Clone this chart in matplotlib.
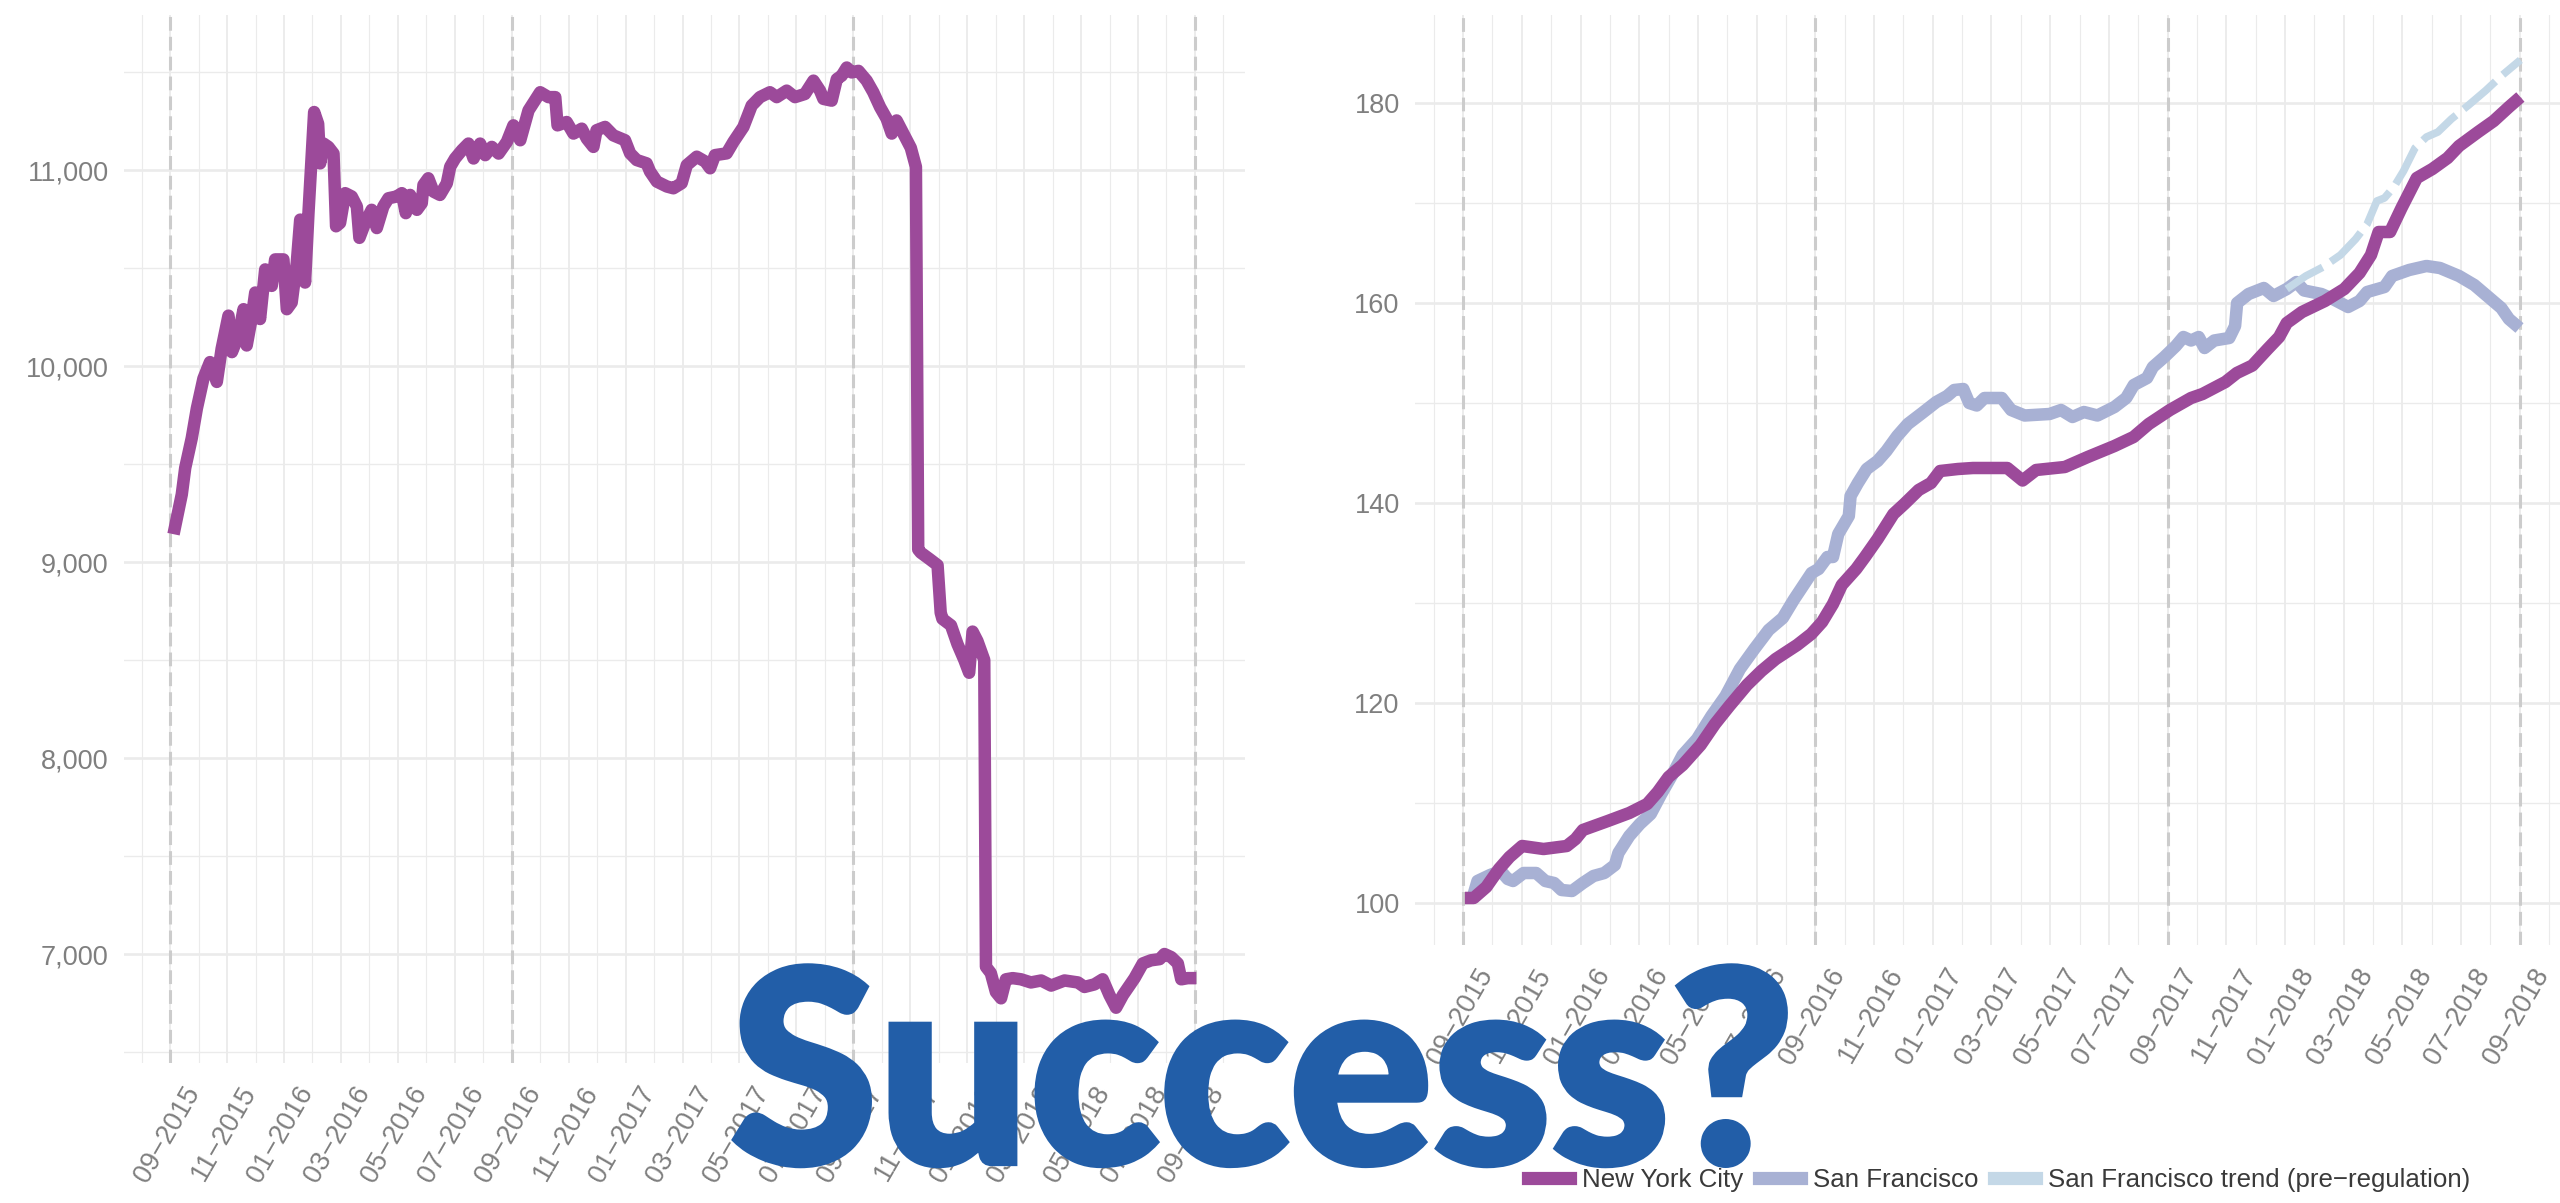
import matplotlib
matplotlib.use("Agg")
import matplotlib.pyplot as plt
import matplotlib.transforms as mtransforms
import matplotlib.patheffects as pe
from matplotlib.lines import Line2D
from matplotlib.ticker import MultipleLocator, FuncFormatter

plt.rcParams['font.family'] = ['Liberation Sans', 'DejaVu Sans']

# x positions are months after 09-2015
tick_months = list(range(0, 37, 2))
tick_labels = ["09−2015", "11−2015", "01−2016", "03−2016", "05−2016", "07−2016",
               "09−2016", "11−2016", "01−2017", "03−2017", "05−2017", "07−2017",
               "09−2017", "11−2017", "01−2018", "03−2018", "05−2018", "07−2018",
               "09−2018"]
year_marks = [0, 12, 24, 36]

# left panel: listings count, NYC
left_months = [0.12, 0.41, 0.53, 0.76, 0.94, 1.17, 1.40, 1.64, 1.81, 2.05, 2.17, 2.40,
               2.58, 2.69, 2.86, 2.99, 3.16, 3.34, 3.57, 3.69, 3.98, 4.10, 4.27, 4.45,
               4.57, 4.74, 4.86, 4.98, 5.06, 5.20, 5.27, 5.39, 5.56, 5.74, 5.83, 5.97,
               6.15, 6.38, 6.56, 6.65, 6.85, 7.08, 7.26, 7.49, 7.67, 7.96, 8.14, 8.28,
               8.43, 8.67, 8.84, 8.90, 9.07, 9.25, 9.48, 9.72, 9.84, 10.01, 10.25, 10.48,
               10.66, 10.89, 11.07, 11.30, 11.54, 11.83, 12.06, 12.30, 12.59, 13.00, 13.29,
               13.53, 13.61, 13.93, 14.17, 14.46, 14.64, 14.87, 14.98, 15.28, 15.57, 15.98,
               16.16, 16.39, 16.74, 16.86, 17.10, 17.45, 17.68, 17.97, 18.15, 18.50, 18.80,
               18.97, 19.14, 19.55, 19.79, 20.14, 20.43, 20.72, 21.07, 21.31, 21.66, 21.95,
               22.30, 22.60, 22.83, 22.95, 23.24, 23.42, 23.59, 23.77, 23.94, 24.18, 24.47,
               24.70, 24.94, 25.17, 25.35, 25.52, 25.79, 26.02, 26.20, 26.28, 26.37, 26.67,
               26.96, 27.07, 27.13, 27.43, 27.66, 27.90, 28.07, 28.19, 28.36, 28.60, 28.66,
               28.83, 29.01, 29.19, 29.36, 29.60, 29.89, 30.24, 30.60, 30.95, 31.42, 31.89,
               32.12, 32.47, 32.76, 33.00, 33.23, 33.47, 33.70, 33.88, 34.17, 34.46, 34.76,
               34.93, 35.17, 35.40, 35.52, 35.75, 36.05]
left_values = [9142, 9345, 9480, 9632, 9784, 9936, 10020, 9919, 10088, 10257, 10071, 10155,
               10290, 10105, 10240, 10375, 10240, 10493, 10409, 10544, 10544, 10290, 10324, 10527,
               10747, 10426, 10780, 11084, 11296, 11236, 11034, 11135, 11118, 11084, 10713, 10730,
               10882, 10865, 10814, 10654, 10730, 10797, 10704, 10814, 10856, 10865, 10882, 10780,
               10873, 10797, 10831, 10924, 10958, 10890, 10873, 10932, 11017, 11059, 11101, 11135,
               11059, 11135, 11076, 11118, 11084, 11144, 11228, 11152, 11304, 11397, 11372,
               11372, 11228, 11245, 11186, 11211, 11160, 11118, 11203, 11220, 11177, 11152,
               11085, 11051, 11034, 10992, 10941, 10916, 10907, 10933, 11025, 11068, 11043,
               11009, 11076, 11085, 11144, 11220, 11329, 11372, 11397, 11372, 11405, 11372,
               11388, 11456, 11405, 11363, 11354, 11464, 11481, 11523, 11498, 11506, 11456,
               11397, 11321, 11262, 11186, 11253, 11177, 11113, 11016, 9064, 9048, 9016,
               8984, 8742, 8710, 8677, 8581, 8500, 8435, 8645, 8597, 8500, 6935,
               6903, 6806, 6774, 6871, 6877, 6871, 6855, 6865, 6839, 6865, 6855,
               6832, 6845, 6871, 6790, 6726, 6790, 6839, 6877, 6952, 6968, 6974,
               7000, 6984, 6952, 6871, 6877, 6877]

# right panel: price index
nyc_months = [0.06, 0.36, 0.79, 1.22, 1.58, 2.01, 2.74, 3.53, 3.83, 4.08, 4.93, 5.66,
              6.27, 6.63, 7.00, 7.48, 8.09, 8.58, 9.07, 9.67, 10.16, 10.65, 11.38, 11.86,
              12.23, 12.60, 12.90, 13.39, 13.69, 14.12, 14.66, 15.03, 15.52, 15.94, 16.25,
              16.86, 17.37, 18.54, 19.06, 19.52, 20.50, 21.28, 22.19, 22.84, 23.36, 24.08,
              24.80, 25.19, 25.97, 26.36, 26.89, 27.41, 27.80, 28.06, 28.58, 29.36, 30.02,
              30.54, 30.93, 31.19, 31.58, 31.97, 32.49, 33.02, 33.54, 33.93, 34.58, 35.11,
              35.63, 36.02]
nyc_values = [100.5, 100.5, 101.6, 103.4, 104.6, 105.7, 105.4, 105.7, 106.4, 107.3, 108.2, 109.0,
              109.9, 111.1, 112.6, 113.8, 115.8, 117.9, 119.7, 121.8, 123.2, 124.4, 125.8, 126.9,
              128.1, 129.9, 131.8, 133.4, 134.6, 136.4, 138.9, 139.9, 141.3, 142.0, 143.2,
              143.4, 143.5, 143.5, 142.25, 143.3, 143.6, 144.6, 145.7, 146.6, 147.9, 149.3,
              150.5, 150.9, 152.1, 153.0, 153.75, 155.4, 156.6, 158.0, 159.1, 160.2, 161.4,
              163.0, 164.8, 167.1, 167.1, 169.5, 172.5, 173.4, 174.5, 175.7, 177.1, 178.2,
              179.6, 180.6]

sf_months = [0.30, 0.49, 0.92, 1.28, 1.52, 1.70, 2.06, 2.49, 2.80, 3.10, 3.35, 3.71, 4.08,
             4.44, 4.81, 5.17, 5.29, 5.66, 6.02, 6.39, 6.75, 7.12, 7.48, 7.97, 8.46, 8.94,
             9.43, 9.92, 10.41, 10.89, 11.26, 11.87, 12.11, 12.41, 12.60, 12.78, 13.14, 13.20,
             13.45, 13.75, 14.12, 14.42, 14.79, 15.15, 15.64, 16.12, 16.49, 16.73, 17.04,
             17.24, 17.50, 17.76, 18.35, 18.67, 19.13, 19.98, 20.37, 20.76, 21.15, 21.61,
             22.19, 22.59, 22.85, 23.30, 23.50, 23.89, 24.28, 24.54, 24.80, 25.06, 25.26,
             25.59, 26.10, 26.30, 26.37, 26.76, 27.28, 27.61, 28.06, 28.39, 28.65, 29.24,
             29.63, 30.15, 30.54, 30.80, 31.39, 31.65, 32.23, 32.82, 33.28, 33.93, 34.45,
             34.97, 35.37, 35.63, 35.99]
sf_values = [100.3, 102.2, 102.8, 103.2, 102.4, 102.2, 103.0, 103.0, 102.2, 102.0, 101.3, 101.2, 102.0,
             102.7, 103.0, 103.8, 105.0, 106.7, 107.9, 108.9, 110.9, 112.8, 114.8, 116.4, 118.7, 120.7,
             123.4, 125.4, 127.3, 128.5, 130.3, 133.0, 133.4, 134.6, 134.6, 136.9, 138.7, 140.7,
             142.0, 143.4, 144.2, 145.2, 146.7, 147.9, 149.0, 150.1, 150.7, 151.3, 151.4,
             150.0, 149.75, 150.5, 150.5, 149.3, 148.75, 148.9, 149.3, 148.6, 149.1, 148.75,
             149.6, 150.5, 151.8, 152.5, 153.6, 154.6, 155.7, 156.6, 156.25, 156.6, 155.5,
             156.25, 156.5, 157.7, 160.0, 160.9, 161.5, 160.7, 161.4, 162.1, 161.25, 160.9,
             160.4, 159.6, 160.2, 161.1, 161.6, 162.7, 163.3, 163.7, 163.5, 162.7, 161.8,
             160.5, 159.5, 158.4, 157.5]

trend_months = [28.06, 28.71, 29.30, 29.89, 30.41, 30.80, 31.13, 31.39, 31.71, 32.04, 32.43,
                32.82, 33.21, 33.67, 34.26, 34.84, 35.37, 36.02]
trend_values = [161.4, 162.7, 163.6, 164.8, 166.4, 167.9, 170.2, 170.5, 171.6, 173.2, 175.5,
                176.6, 177.1, 178.4, 179.8, 181.25, 182.7, 184.3]

purple = "#9c4a9a"
lavender = "#a8b1d4"
pale = "#c4d8e7"
grid_col = "#ebebeb"
label_col = "#7f7f7f"
title_blue = "#225ea8"

W, H = 2560, 1203
fig = plt.figure(figsize=(25.6, 12.03), dpi=100)
ax1 = fig.add_axes([124 / W, 1 - 1063 / H, (1245 - 124) / W, (1063 - 15) / H])
ax2 = fig.add_axes([1415 / W, 1 - 945 / H, (W - 1415) / W, (945 - 15) / H])


def style_axis(ax, xlim, ylim, ymajor, yminor, fmt):
    ax.set_xlim(*xlim)
    ax.set_ylim(*ylim)
    for s in ax.spines.values():
        s.set_visible(False)
    ax.set_xticks(tick_months)
    ax.set_xticklabels(tick_labels, rotation=60, ha="right", va="center",
                       rotation_mode="anchor")
    ax.xaxis.set_minor_locator(MultipleLocator(1))
    ax.yaxis.set_major_locator(MultipleLocator(ymajor))
    ax.yaxis.set_minor_locator(MultipleLocator(yminor))
    ax.yaxis.set_major_formatter(FuncFormatter(fmt))
    ax.grid(which="major", axis="y", color=grid_col, lw=1.9)
    ax.grid(which="minor", axis="y", color=grid_col, lw=1.0)
    ax.grid(which="major", axis="x", color=grid_col, lw=1.3)
    ax.grid(which="minor", axis="x", color=grid_col, lw=0.8)
    ax.set_axisbelow(True)
    ax.tick_params(which="both", length=0)
    ax.tick_params(axis="y", labelsize=19.5, labelcolor=label_col, pad=11)
    ax.tick_params(axis="x", labelsize=19.5, labelcolor=label_col, pad=18)
    shift = mtransforms.ScaledTranslation(0.235, 0, fig.dpi_scale_trans)
    for lab in ax.get_xticklabels():
        lab.set_transform(lab.get_transform() + shift)
    for m in year_marks:
        ax.axvline(m, color="#cccccc", lw=2.2, ls=(0, (4.5, 2)), zorder=1.5)


style_axis(ax1, (-1.62, 37.76), (6444, 11791), 1000, 500, lambda v, p: f"{v:,.0f}")
style_axis(ax2, (-1.64, 37.37), (95.8, 188.8), 20, 10, lambda v, p: f"{v:.0f}")

ax1.plot(left_months, left_values, color=purple, lw=9, solid_joinstyle="round",
         solid_capstyle="butt", zorder=3)

ax2.plot(sf_months, sf_values, color=lavender, lw=9, solid_joinstyle="round",
         solid_capstyle="butt", zorder=3)
ax2.plot(nyc_months, nyc_values, color=purple, lw=9, solid_joinstyle="round",
         solid_capstyle="butt", zorder=4)
ax2.plot(trend_months, trend_values, color=pale, lw=5.5, ls=(0, (5.5, 1.3)), zorder=5)

handles = [Line2D([], [], color=purple, lw=9.5),
           Line2D([], [], color=lavender, lw=9.5),
           Line2D([], [], color=pale, lw=9.5)]
fig.legend(handles, ["New York City", "San Francisco", "San Francisco trend (pre−regulation)"],
           loc="center", bbox_to_anchor=(0.781, 0.019), ncol=3, frameon=False, fontsize=18.6,
           handlelength=1.62, handletextpad=0.46, columnspacing=0.62, labelcolor="#3a3a3a")

fig.text(730 / W, 1 - 1163 / H, "Success?", fontsize=193, fontweight="black",
         family=["Lato", "DejaVu Sans"], color=title_blue, ha="left", va="baseline", zorder=10,
         path_effects=[pe.withStroke(linewidth=4.5, foreground=title_blue, joinstyle="miter")])

fig.savefig("out.png", dpi=100)
